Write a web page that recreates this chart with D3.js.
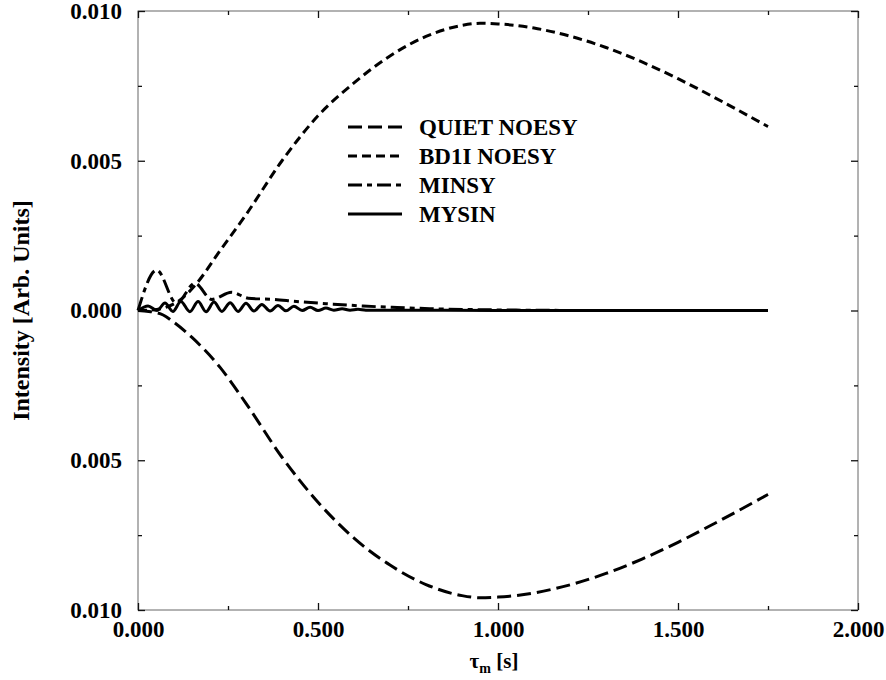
<!DOCTYPE html>
<html lang="en">
<head>
  <meta charset="UTF-8" />
  <title>Intensity vs mixing time</title>
  <script src="https://d3js.org/d3.v7.min.js"></script>
  <style>
    body { margin: 0; background: white; }
    svg { display: block; font-family: 'Liberation Serif', 'Times New Roman', serif; font-weight: bold; }
    .frame { fill: none; stroke: #666; stroke-width: 1; }
    .axis path { display: none; }
    .axis line { stroke: #111; stroke-width: 1.3; }
    .axis text { font-size: 23px; font-family: 'Liberation Serif', 'Times New Roman', serif; font-weight: bold; fill: #000; }
    .curve { fill: none; stroke: #000; stroke-width: 3; }
  </style>
</head>
<body>
<div id="chart"></div>
<script>
  // --- data: time (s) and intensity (arb. units) ---
  const seriesNames = ["QUIET NOESY", "BD1I NOESY", "MINSY", "MYSIN"];
  const dashes = ["14,6", "9,5", "14,5,5,5", null];

  const quietT = [0, 0.03, 0.07, 0.097, 0.15, 0.228, 0.3, 0.4, 0.5, 0.6, 0.7, 0.8, 0.9, 0.95, 1.0, 1.1, 1.2, 1.3, 1.4, 1.5, 1.6, 1.75];
  const quietV = [0, -0.00003, -0.00015, -0.00037, -0.0009, -0.0019, -0.0031, -0.0049, -0.0064, -0.0076, -0.0085, -0.00915, -0.00952, -0.00959, -0.00957, -0.00943, -0.00916, -0.00878, -0.0083, -0.00774, -0.00712, -0.00614];

  const bd1iT = [0, 0.03, 0.07, 0.117, 0.164, 0.228, 0.3, 0.4, 0.5, 0.6, 0.7, 0.8, 0.9, 0.95, 1.0, 1.1, 1.2, 1.3, 1.4, 1.5, 1.6, 1.75];
  const bd1iV = [0, 0.00001, 0.00008, 0.00035, 0.00092, 0.002, 0.0032, 0.005, 0.0065, 0.0076, 0.0085, 0.00915, 0.00952, 0.00959, 0.00957, 0.00943, 0.00916, 0.00878, 0.0083, 0.00774, 0.00712, 0.00614];

  const minsyT = [0, 0.052, 0.107, 0.158, 0.205, 0.26, 0.306, 0.376, 0.44, 0.533, 0.625, 0.72, 0.81, 1.0, 1.3, 1.75];
  const minsyV = [0, 0.00135, 0.00024, 0.00091, 0.00037, 0.00061, 0.00041, 0.00037, 0.0003, 0.00022, 0.00015, 0.0001, 0.00006, 0.00002, 0, 0];

  const mysinT = [0, 0.028, 0.053, 0.075, 0.097, 0.119, 0.144, 0.167, 0.189, 0.211, 0.233, 0.256, 0.278, 0.3, 0.322, 0.344, 0.367, 0.389, 0.411, 0.433, 0.456, 0.478, 0.5, 0.522, 0.544, 0.567, 0.589, 0.611, 0.633, 0.7, 1.0, 1.75];
  const mysinV = [0, 0.00015, 0, 0.00025, -0.00003, 0.0003, -0.00004, 0.0003, -0.00004, 0.00028, -0.00003, 0.00026, -0.00003, 0.00024, -0.00002, 0.0002, -0.00002, 0.00017, -0.00001, 0.00014, 0, 0.00011, 0, 0.00008, 0.00001, 0.00006, 0.00001, 0.00004, 0.00001, 0.00001, 0, 0];

  const xTicks = [0, 0.5, 1.0, 1.5, 2.0];
  const xTickLabels = ["0.000", "0.500", "1.000", "1.500", "2.000"];
  const xMinorTicks = [0.25, 0.75, 1.25, 1.75];
  const yTicks = [-0.01, -0.005, 0, 0.005, 0.01];
  const yTickLabels = ["0.010", "0.005", "0.000", "0.005", "0.010"];
  const yMinorTicks = [-0.0075, -0.0025, 0.0025, 0.0075];

  const allT = [quietT, bd1iT, minsyT, mysinT];
  const allV = [quietV, bd1iV, minsyV, mysinV];

  // --- layout ---
  const W = 886, H = 680;
  const pLeft = 138, pRight = 858, pTop = 11, pBottom = 610;

  const svg = d3.select("#chart").append("svg")
    .attr("width", W).attr("height", H);

  const x = d3.scaleLinear().domain([0, 2]).range([pLeft, pRight]);
  const y = d3.scaleLinear().domain([-0.01, 0.01]).range([pBottom, pTop]);

  // --- frame ---
  svg.append("rect").attr("class", "frame")
    .attr("x", pLeft).attr("y", pTop)
    .attr("width", pRight - pLeft).attr("height", pBottom - pTop);

  // --- axes: ticks point inward on all four sides ---
  svg.append("g").attr("class", "axis")
    .attr("transform", `translate(0,${pBottom})`)
    .call(d3.axisBottom(x).tickValues(xTicks).tickSize(-7).tickPadding(9)
      .tickFormat((d, i) => xTickLabels[i]))
    .selectAll("text").attr("dy", "0.8em");
  svg.append("g").attr("class", "axis")
    .attr("transform", `translate(0,${pBottom})`)
    .call(d3.axisBottom(x).tickValues(xMinorTicks).tickSize(-4).tickFormat(""));
  svg.append("g").attr("class", "axis")
    .attr("transform", `translate(0,${pTop})`)
    .call(d3.axisTop(x).tickValues(xTicks).tickSize(-7).tickFormat(""));
  svg.append("g").attr("class", "axis")
    .attr("transform", `translate(0,${pTop})`)
    .call(d3.axisTop(x).tickValues(xMinorTicks).tickSize(-4).tickFormat(""));

  svg.append("g").attr("class", "axis")
    .attr("transform", `translate(${pLeft},0)`)
    .call(d3.axisLeft(y).tickValues(yTicks).tickSize(-7).tickPadding(16)
      .tickFormat((d, i) => yTickLabels[i]));
  svg.append("g").attr("class", "axis")
    .attr("transform", `translate(${pLeft},0)`)
    .call(d3.axisLeft(y).tickValues(yMinorTicks).tickSize(-4).tickFormat(""));
  svg.append("g").attr("class", "axis")
    .attr("transform", `translate(${pRight},0)`)
    .call(d3.axisRight(y).tickValues(yTicks).tickSize(-7).tickFormat(""));
  svg.append("g").attr("class", "axis")
    .attr("transform", `translate(${pRight},0)`)
    .call(d3.axisRight(y).tickValues(yMinorTicks).tickSize(-4).tickFormat(""));

  // --- curves ---
  const line = d3.line()
    .x(d => x(d[0]))
    .y(d => y(d[1]))
    .curve(d3.curveMonotoneX);

  seriesNames.forEach((name, i) => {
    const pts = allT[i].map((t, k) => [t, allV[i][k]]);
    svg.append("path")
      .attr("class", "curve")
      .attr("d", line(pts))
      .attr("stroke-dasharray", dashes[i]);
  });

  // --- legend ---
  const legend = svg.append("g").attr("transform", "translate(348,127)");
  seriesNames.forEach((name, i) => {
    const row = legend.append("g").attr("transform", `translate(0,${i * 29})`);
    row.append("line")
      .attr("class", "curve")
      .attr("x1", 0).attr("x2", 54).attr("y1", 0).attr("y2", 0)
      .attr("stroke-dasharray", dashes[i]);
    row.append("text")
      .attr("x", 71).attr("y", 8)
      .style("font-size", "23px")
      .text(name);
  });

  // --- axis titles ---
  svg.append("text")
    .attr("transform", `translate(29,${(pTop + pBottom) / 2}) rotate(-90)`)
    .attr("text-anchor", "middle")
    .style("font-size", "24px")
    .text("Intensity [Arb. Units]");

  const xt = svg.append("text")
    .attr("x", (pLeft + pRight) / 2 - 4)
    .attr("y", 668)
    .attr("text-anchor", "middle")
    .style("font-size", "21px");
  xt.append("tspan").text("τ");
  xt.append("tspan").attr("dy", 5).style("font-size", "14px").text("m");
  xt.append("tspan").attr("dy", -5).text(" [s]");
</script>
</body>
</html>
